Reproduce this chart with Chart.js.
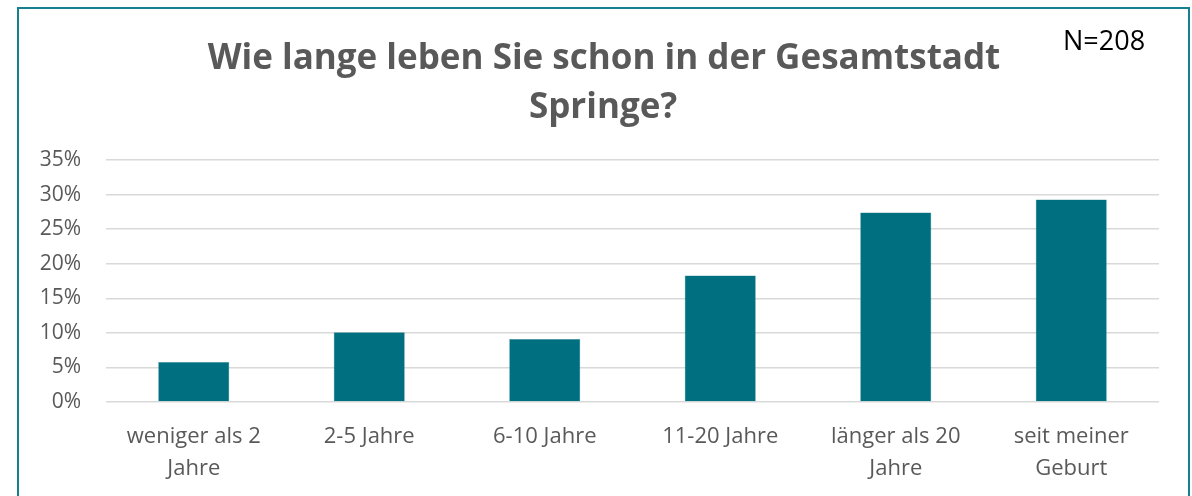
<!DOCTYPE html>
<html>
<head>
<meta charset="utf-8">
<script src="https://cdn.jsdelivr.net/npm/chart.js@4"></script>
<style>
  html, body { margin: 0; padding: 0; background: #fff; }
  #wrap { position: relative; width: 1192px; height: 496px; overflow: hidden; }
  #frame { position: absolute; left: 17px; top: 7px; width: 1169px; height: 520px; border: 2px solid #17808e; }
  #chart { position: absolute; left: 0; top: 0; }
</style>
</head>
<body>
<div id="wrap">
  <div id="frame"></div>
  <canvas id="chart" width="1192" height="496"></canvas>
</div>
<script>
// data (N=208)
const categories = [
    ['weniger als 2', 'Jahre'],
    '2-5 Jahre',
    '6-10 Jahre',
    '11-20 Jahre',
    ['länger als 20', 'Jahre'],
    ['seit meiner', 'Geburt']
];
const shares = [5.8, 10.1, 9.1, 18.3, 27.4, 29.3];
const yTicks = [0, 5, 10, 15, 20, 25, 30, 35];

const titleLines = ['Wie lange leben Sie schon in der Gesamtstadt', 'Springe?'];
const sampleNote = 'N=208';

const font = '"Open Sans", "Noto Sans", sans-serif';
const grey = '#595959';

// title + N label drawn on top of the canvas
const headerPlugin = {
    id: 'header',
    afterDraw(chart) {
        const ctx = chart.ctx;
        ctx.save();
        ctx.fillStyle = grey;
        ctx.font = 'bold 35px ' + font;
        ctx.textAlign = 'center';
        ctx.textBaseline = 'alphabetic';
        ctx.fillText(titleLines[0], 604, 69);
        ctx.fillText(titleLines[1], 603, 118);

        ctx.fillStyle = '#000';
        ctx.font = '27px ' + font;
        ctx.textAlign = 'left';
        ctx.fillText(sampleNote, 1063, 50);
        ctx.restore();
    }
};

new Chart(document.getElementById('chart'), {
    type: 'bar',
    data: {
        labels: categories,
        datasets: [{
            data: shares,
            backgroundColor: '#006f80',
            borderColor: '#3a8e9b',
            borderWidth: 0.5,
            categoryPercentage: 1,
            barPercentage: 0.405
        }]
    },
    options: {
        responsive: false,
        animation: false,
        layout: { padding: { top: 160, right: 33, left: 0, bottom: 0 } },
        plugins: {
            legend: { display: false },
            tooltip: { enabled: false },
            title: { display: false }
        },
        scales: {
            x: {
                grid: { display: false, drawTicks: false },
                border: { display: false },
                ticks: {
                    color: grey,
                    font: { family: font, size: 22, lineHeight: 1.45 },
                    padding: 19,
                    maxRotation: 0,
                    autoSkip: false
                },
                afterFit(scale) { scale.height = 94; }
            },
            y: {
                min: 0,
                max: 35,
                afterBuildTicks(scale) { scale.ticks = yTicks.map(v => ({ value: v })); },
                grid: { color: '#d9d9d9', lineWidth: 1.5, drawTicks: false },
                border: { display: false },
                ticks: {
                    color: grey,
                    font: { family: font, size: 21 },
                    padding: 25,
                    callback: v => v + '%'
                },
                afterFit(scale) { scale.width = 106; }
            }
        }
    },
    plugins: [headerPlugin]
});
</script>
</body>
</html>
